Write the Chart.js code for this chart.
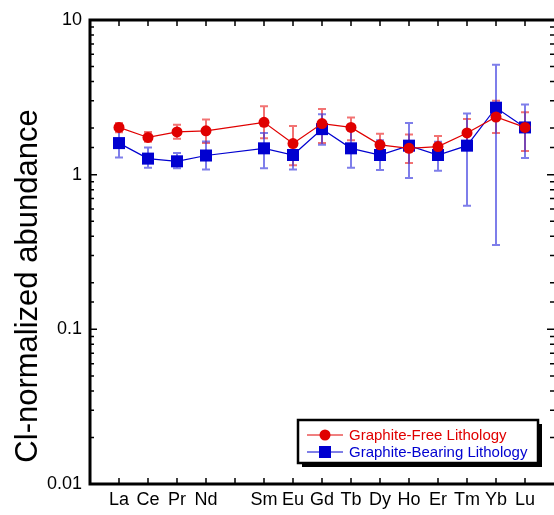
<!DOCTYPE html>
<html>
<head>
<meta charset="utf-8">
<script src="https://cdn.jsdelivr.net/npm/chart.js@4"></script>
<style>
html,body{margin:0;padding:0;background:#fff;}
#wrap{width:554px;height:515px;position:relative;}
</style>
</head>
<body>
<div id="wrap"><canvas id="c" width="554" height="515"></canvas></div>
<script>
// Element symbols along the x axis (atomic numbers 57..71; Pm has no data)
const axisSymbols = ['La','Ce','Pr','Nd','Pm','Sm','Eu','Gd','Tb','Dy','Ho','Er','Tm','Yb','Lu'];
const axisNumbers = [57,58,59,60,61,62,63,64,65,66,67,68,69,70,71];
const hiddenLabels = ['Pm'];
const axisMin = 56, axisMax = 72;

// Measured elements
const elements = ['La','Ce','Pr','Nd','Sm','Eu','Gd','Tb','Dy','Ho','Er','Tm','Yb','Lu'];

// Graphite-Free Lithology (CI-normalized)
const freeValues = [2.02,1.74,1.89,1.92,2.18,1.59,2.14,2.02,1.56,1.48,1.52,1.86,2.36,2.02];
const freeLow    = [1.88,1.63,1.71,1.60,1.72,1.15,1.60,1.67,1.32,1.19,1.30,1.50,1.86,1.42];
const freeHigh   = [2.16,1.89,2.10,2.27,2.77,2.06,2.66,2.34,1.84,1.82,1.78,2.29,3.00,2.53];

// Graphite-Bearing Lithology (CI-normalized)
const bearValues = [1.60,1.27,1.22,1.33,1.48,1.34,1.97,1.48,1.34,1.54,1.34,1.54,2.71,2.02];
const bearLow    = [1.29,1.11,1.10,1.08,1.10,1.08,1.56,1.11,1.07,0.95,1.06,0.63,0.351,1.28];
const bearHigh   = [2.00,1.50,1.38,1.64,1.86,1.64,2.46,1.94,1.67,2.16,1.63,2.49,5.14,2.84];

// Y-axis labelled decades
const yTickLabels = [0.01, 0.1, 1, 10];

const seriesNames = ['Graphite-Free Lithology','Graphite-Bearing Lithology'];
const yTitle = 'Cl-normalized abundance';

function atomicOf(sym){ return axisNumbers[axisSymbols.indexOf(sym)]; }
function pts(vals, lo, hi){
  return elements.map((e,i)=>({x:atomicOf(e), y:vals[i], lo:lo[i], hi:hi[i]}));
}

const RED = '#e00000';
const BLUE = '#0000d0';
const FONT = '"Liberation Sans", Arial, sans-serif';

const errorBars = {
  id:'errorBars',
  beforeDatasetsDraw(chart){
    const ctx = chart.ctx, xs = chart.scales.x, ys = chart.scales.y;
    const cols = ['rgba(235,40,40,0.65)','rgba(40,40,220,0.6)'];
    chart.data.datasets.forEach((ds,di)=>{
      ctx.save();
      ctx.strokeStyle = cols[di];
      ctx.lineWidth = 2;
      ds.data.forEach(p=>{
        const x = xs.getPixelForValue(p.x);
        const y1 = ys.getPixelForValue(p.lo), y2 = ys.getPixelForValue(p.hi);
        ctx.beginPath();
        ctx.moveTo(x,y1); ctx.lineTo(x,y2);
        ctx.moveTo(x-4,y1); ctx.lineTo(x+4,y1);
        ctx.moveTo(x-4,y2); ctx.lineTo(x+4,y2);
        ctx.stroke();
      });
      ctx.restore();
    });
  }
};

const frame = {
  id:'frame',
  afterDraw(chart){
    const ctx = chart.ctx, a = chart.chartArea, xs = chart.scales.x, ys = chart.scales.y;
    ctx.save();
    ctx.strokeStyle = '#000';
    // y ticks (log, inward both sides)
    ctx.lineWidth = 1.5;
    ys.ticks.forEach(t=>{
      const v = t.value;
      const lg = Math.log10(v);
      const major = Math.abs(lg-Math.round(lg))<1e-6;
      const len = major?7:4;
      const y = ys.getPixelForValue(v);
      ctx.beginPath();
      ctx.moveTo(a.left,y); ctx.lineTo(a.left+len,y);
      ctx.moveTo(a.right,y); ctx.lineTo(a.right-len,y);
      ctx.stroke();
    });
    // x ticks (inward top & bottom)
    axisNumbers.forEach(n=>{
      const x = xs.getPixelForValue(n);
      ctx.beginPath();
      ctx.moveTo(x,a.bottom); ctx.lineTo(x,a.bottom-6);
      ctx.moveTo(x,a.top); ctx.lineTo(x,a.top+6);
      ctx.stroke();
    });
    // border (right spine falls just outside the picture)
    ctx.lineWidth = 3;
    ctx.beginPath();
    ctx.moveTo(a.right+4, a.top); ctx.lineTo(a.left, a.top);
    ctx.lineTo(a.left, a.bottom); ctx.lineTo(a.right+4, a.bottom);
    ctx.stroke();
    // y title
    ctx.save();
    ctx.translate(28, 286);
    ctx.rotate(-Math.PI/2);
    ctx.fillStyle = '#000';
    ctx.font = '31px ' + FONT;
    ctx.textAlign = 'center';
    ctx.textBaseline = 'middle';
    ctx.fillText(yTitle, 0, 0);
    ctx.restore();
    // legend
    const bx = 298, by = 420, bw = 240, bh = 43;
    ctx.fillStyle = '#000';
    ctx.fillRect(bx+4, by+4, bw, bh);
    ctx.fillStyle = '#fff';
    ctx.fillRect(bx, by, bw, bh);
    ctx.lineWidth = 2.5;
    ctx.strokeRect(bx, by, bw, bh);
    const rows = [
      {y:435, color:RED, shape:'circle', name:seriesNames[0]},
      {y:452, color:BLUE, shape:'rect', name:seriesNames[1]}
    ];
    ctx.font = '15px ' + FONT;
    ctx.textBaseline = 'middle';
    ctx.textAlign = 'left';
    rows.forEach(r=>{
      ctx.strokeStyle = r.color; ctx.lineWidth = 1;
      ctx.beginPath(); ctx.moveTo(307, r.y); ctx.lineTo(343, r.y); ctx.stroke();
      ctx.fillStyle = r.color;
      if(r.shape==='circle'){ ctx.beginPath(); ctx.arc(325, r.y, 5.5, 0, Math.PI*2); ctx.fill(); }
      else { ctx.fillRect(319, r.y-6, 12, 12); }
      ctx.fillText(r.name, 349, r.y+1);
    });
    ctx.restore();
  }
};

new Chart(document.getElementById('c'), {
  type:'line',
  data:{
    datasets:[
      {label:seriesNames[0], data:pts(freeValues,freeLow,freeHigh), borderColor:RED, backgroundColor:RED,
       borderWidth:1.2, pointStyle:'circle', pointRadius:5.5, pointBorderWidth:0, showLine:true, tension:0},
      {label:seriesNames[1], data:pts(bearValues,bearLow,bearHigh), borderColor:BLUE, backgroundColor:BLUE,
       borderWidth:1.2, pointStyle:'rect', pointRadius:8.5, pointBorderWidth:0, showLine:true, tension:0}
    ]
  },
  options:{
    responsive:false, animation:false,
    layout:{autoPadding:false, padding:{top:20,right:0,left:0,bottom:0}},
    plugins:{legend:{display:false}, tooltip:{enabled:false}},
    scales:{
      x:{type:'linear', min:axisMin, max:axisMax,
         grid:{display:false, drawTicks:false}, border:{display:false},
         afterFit(s){ s.height = 31; s.paddingRight = 0; s.paddingLeft = 0; },
         afterBuildTicks(s){ s.ticks = [axisMin].concat(axisNumbers, [axisMax]).map(v=>({value:v})); },
         ticks:{padding:5, color:'#000', font:{family:FONT, size:18}, maxRotation:0, autoSkip:false,
           callback(v){ const s = axisSymbols[axisNumbers.indexOf(v)]; return (s && hiddenLabels.indexOf(s)<0)?s:''; }}
      },
      y:{type:'logarithmic', min:0.01, max:10,
         grid:{display:false, drawTicks:false}, border:{display:false},
         afterFit(s){ s.width = 90; },
         ticks:{padding:8, color:'#000', font:{family:FONT, size:18}, autoSkip:false,
           callback(v){ return yTickLabels.some(t=>Math.abs(t-v)/t<1e-6) ? String(v) : ''; }}
      }
    }
  },
  plugins:[errorBars, frame]
});
</script>
</body>
</html>
